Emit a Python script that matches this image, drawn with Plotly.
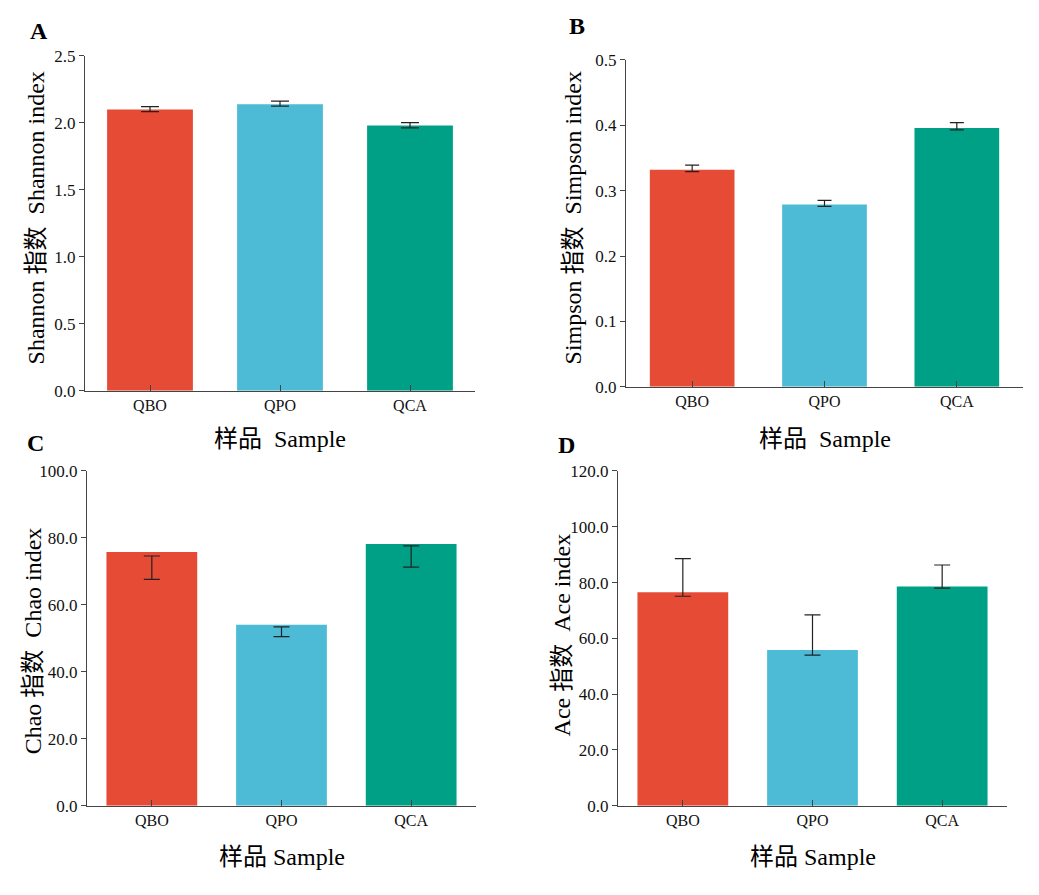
import plotly.graph_objects as go
from plotly.subplots import make_subplots

# samples
categories = ["QBO", "QPO", "QCA"]
bar_colors = ["#E64B35", "#4DBBD5", "#00A087"]

# mean values and error bar ends (low / high)
shannon = [2.10, 2.14, 1.98]
shannon_lo = [2.085, 2.125, 1.963]
shannon_hi = [2.122, 2.163, 2.003]

simpson = [0.332, 0.279, 0.396]
simpson_lo = [0.329, 0.276, 0.393]
simpson_hi = [0.339, 0.285, 0.404]

chao = [75.8, 54.1, 78.2]
chao_lo = [67.6, 50.5, 71.3]
chao_hi = [74.6, 53.4, 77.6]

ace = [76.5, 55.8, 78.6]
ace_lo = [75.1, 54.0, 78.0]
ace_hi = [88.6, 68.4, 86.3]

W, H = 1039, 895
serif = "Liberation Serif, Noto Sans CJK SC"


def px_x(x):
    return x / W


def px_y(y):
    return 1 - y / H


# panel settings: data, axis range, pixel box of plot area, labels
panels = [
    dict(vals=shannon, lo=shannon_lo, hi=shannon_hi, ymax=2.5, dtick=0.5,
         box=(85, 475, 48, 390), bw=0.66, cap=9, letter="A", letter_xy=(39, 22),
         ytitle="Shannon 指数  Shannon index", ytitle_xy=(36, 214),
         xtitle="样品  Sample", xtitle_y=439),
    dict(vals=simpson, lo=simpson_lo, hi=simpson_hi, ymax=0.5, dtick=0.1,
         box=(626, 1023, 52, 386), bw=0.64, cap=7, letter="B", letter_xy=(577, 17),
         ytitle="Simpson 指数  Simpson index", ytitle_xy=(573, 214),
         xtitle="样品  Sample", xtitle_y=439),
    dict(vals=chao, lo=chao_lo, hi=chao_hi, ymax=100, dtick=20,
         box=(87, 476, 472, 814), bw=0.70, cap=8, letter="C", letter_xy=(35, 443),
         ytitle="Chao 指数  Chao index", ytitle_xy=(33, 646),
         xtitle="样品 Sample", xtitle_y=866),
    dict(vals=ace, lo=ace_lo, hi=ace_hi, ymax=120, dtick=20,
         box=(618, 1007, 472, 814), bw=0.70, cap=8, letter="D", letter_xy=(566, 445),
         ytitle="Ace 指数  Ace index", ytitle_xy=(562, 640),
         xtitle="样品 Sample", xtitle_y=866),
]

fig = make_subplots(rows=2, cols=2)
annotations = []

for i, p in enumerate(panels):
    row, col = i // 2 + 1, i % 2 + 1
    fig.add_trace(go.Bar(x=categories, y=p["vals"], marker_color=bar_colors,
                         marker_line_width=0, width=p["bw"], showlegend=False),
                  row=row, col=col)
    # error bars drawn from low to high end
    fig.add_trace(go.Scatter(
        x=categories, y=p["hi"], mode="markers",
        marker=dict(size=2, opacity=0),
        error_y=dict(type="data", symmetric=False, array=[0, 0, 0],
                     arrayminus=[h - l for h, l in zip(p["hi"], p["lo"])],
                     color="#222222", thickness=1.2, width=p["cap"]),
        showlegend=False, hoverinfo="skip"), row=row, col=col)

    x0, x1, y0, y1 = p["box"]
    fig.update_xaxes(domain=[px_x(x0), px_x(x1)], range=[-0.5, 2.5], type="category",
                     showline=True, linecolor="#444444", linewidth=1,
                     ticks="inside", ticklen=6, tickcolor="#444444",
                     tickfont=dict(family=serif, size=16, color="#111111"),
                     showgrid=False, zeroline=False, row=row, col=col)
    fig.update_yaxes(domain=[px_y(y1), px_y(y0)], range=[0, p["ymax"]], dtick=p["dtick"],
                     tickformat=".1f", showline=True, linecolor="#444444", linewidth=1,
                     ticks="outside", ticklen=5, tickcolor="#444444",
                     tickfont=dict(family=serif, size=17, color="#111111"),
                     showgrid=False, zeroline=False, row=row, col=col)

    annotations.append(dict(text="<b>%s</b>" % p["letter"], x=px_x(p["letter_xy"][0]),
                            y=px_y(p["letter_xy"][1]), xref="paper", yref="paper",
                            showarrow=False, xanchor="center", yanchor="middle",
                            font=dict(family=serif, size=24, color="#000000")))
    annotations.append(dict(text=p["ytitle"], x=px_x(p["ytitle_xy"][0]),
                            y=px_y(p["ytitle_xy"][1]), xref="paper", yref="paper",
                            textangle=-90, showarrow=False, xanchor="center", yanchor="middle",
                            font=dict(family=serif, size=24, color="#000000")))
    annotations.append(dict(text=p["xtitle"], x=px_x((x0 + x1) / 2),
                            y=px_y(p["xtitle_y"]), xref="paper", yref="paper",
                            showarrow=False, xanchor="center", yanchor="middle",
                            font=dict(family=serif, size=24, color="#000000")))

fig.update_layout(
    width=W, height=H,
    margin=dict(l=0, r=0, t=0, b=0),
    plot_bgcolor="white", paper_bgcolor="white",
    showlegend=False,
    font=dict(family=serif),
    annotations=annotations,
)

# page body has a default 8px margin; drop it so the figure sits at 0,0
fig.write_html("out.html", config={"displayModeBar": False},
               post_script="document.body.style.margin='0';")
